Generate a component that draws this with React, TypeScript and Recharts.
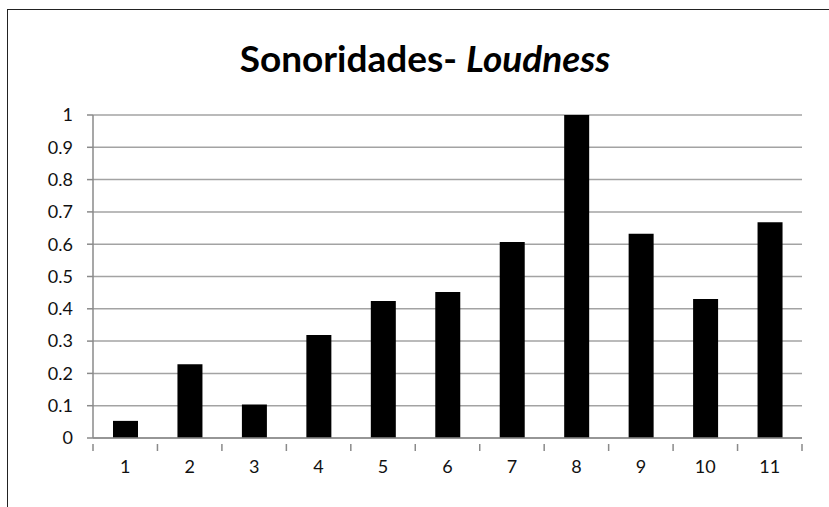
import { Bar, BarChart, CartesianGrid, XAxis, YAxis } from "recharts"

const categories = ["1", "2", "3", "4", "5", "6", "7", "8", "9", "10", "11"]
const loudness = [0.053, 0.228, 0.104, 0.319, 0.424, 0.452, 0.607, 1.0, 0.632, 0.43, 0.668]
const yTicks = [0, 0.1, 0.2, 0.3, 0.4, 0.5, 0.6, 0.7, 0.8, 0.9, 1]

const data = categories.map((c, i) => ({ name: c, value: loudness[i] }))

const FONT = "Lato, 'Liberation Sans', sans-serif"
const AXIS = "#8a8a8a"

// category axis: ticks sit between the bars, not under them
function XTick(props: any) {
  const { x, y, payload, index } = props
  const half = payload?.offset ?? 32.2
  const top = y - 16
  return (
    <g>
      <line x1={x - half} x2={x - half} y1={top} y2={top + 7} stroke={AXIS} strokeWidth={1.5} />
      {index === categories.length - 1 && (
        <line x1={x + half} x2={x + half} y1={top} y2={top + 7} stroke={AXIS} strokeWidth={1.5} />
      )}
      <text x={x} y={y} dy="0.71em" textAnchor="middle" fill="#111" fontSize={18} fontFamily={FONT}>
        {payload.value}
      </text>
    </g>
  )
}

export default function App() {
  return (
    <div style={{ position: "fixed", left: 0, top: 0, width: 829, height: 507, background: "#fff" }}>
      <div
        style={{
          position: "absolute",
          left: 7,
          top: 9,
          right: -2,
          bottom: -2,
          borderLeft: "1.5px solid #222",
          borderTop: "1.5px solid #222",
        }}
      />
      <div
        style={{
          position: "absolute",
          left: 0,
          width: 850,
          top: 38,
          textAlign: "center",
          fontFamily: FONT,
          fontWeight: 700,
          fontSize: 37,
          color: "#000",
          lineHeight: "40px",
        }}
      >
        Sonoridades- <i>Loudness</i>
      </div>
      <BarChart
        width={829}
        height={507}
        data={data}
        margin={{ top: 115, right: 27, left: 33, bottom: 29 }}
        style={{ position: "absolute", left: 0, top: 0 }}
      >
        <CartesianGrid vertical={false} stroke="#a3a3a3" strokeWidth={1.5} />
        <XAxis
          dataKey="name"
          height={40}
          axisLine={{ stroke: AXIS, strokeWidth: 1.5 }}
          tickLine={false}
          tick={<XTick />}
          tickMargin={16}
          interval={0}
        />
        <YAxis
          width={60}
          domain={[0, 1]}
          ticks={yTicks}
          interval={0}
          axisLine={{ stroke: AXIS, strokeWidth: 1.5 }}
          tickLine={{ stroke: AXIS, strokeWidth: 1.5 }}
          tickSize={6}
          tickMargin={14}
          tick={{ fill: "#111", fontSize: 18, fontFamily: FONT }}
        />
        <Bar dataKey="value" fill="#000" barSize={25} isAnimationActive={false} />
      </BarChart>
    </div>
  )
}
